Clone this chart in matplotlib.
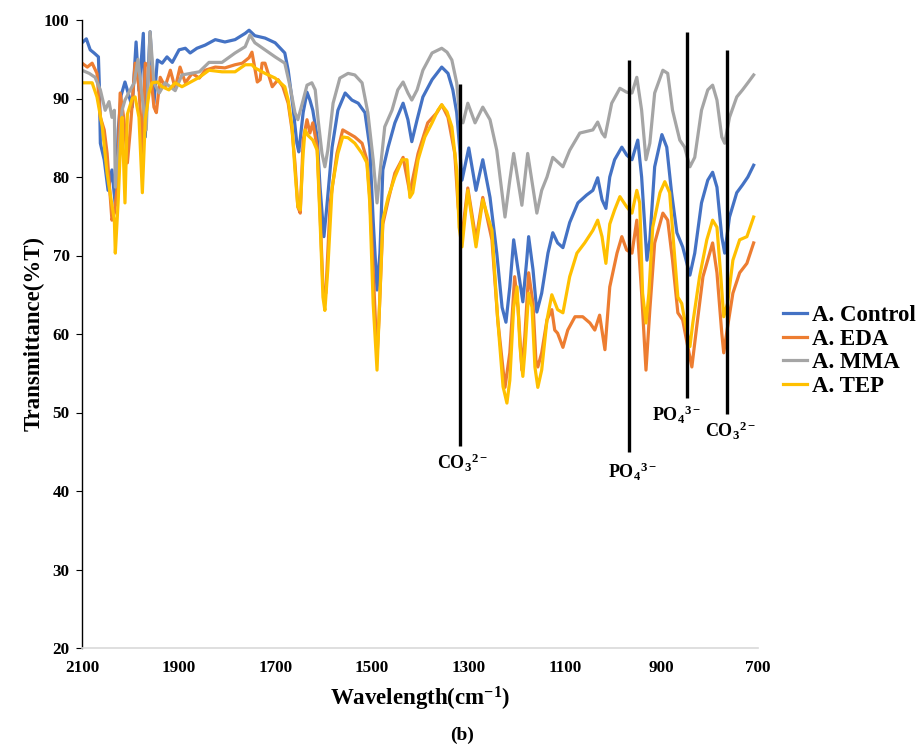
import matplotlib
matplotlib.use("Agg")
import matplotlib.pyplot as plt

# Fonts: Times-like bold text everywhere
plt.rcParams['font.family'] = ['Liberation Serif', 'DejaVu Serif']
plt.rcParams['font.weight'] = 'bold'
plt.rcParams['mathtext.fontset'] = 'custom'
plt.rcParams['mathtext.rm'] = 'Liberation Serif:bold'
plt.rcParams['mathtext.bf'] = 'Liberation Serif:bold'
plt.rcParams['mathtext.it'] = 'Liberation Serif:italic:bold'

# A. Control
control_wn = [2100, 2091, 2083, 2075, 2066, 2064, 2062, 2054, 2046, 2038, 2031, 2025, 2019, 2011,
              1996, 1988, 1982, 1973, 1969, 1959, 1951, 1944, 1934, 1924, 1913, 1899, 1886, 1876,
              1862, 1845, 1824, 1804, 1783, 1762, 1754, 1742, 1721, 1700, 1680, 1673, 1663, 1655,
              1651, 1642, 1634, 1628, 1622, 1613, 1607, 1599, 1593, 1582, 1570, 1555, 1541, 1528,
              1514, 1504, 1497, 1489, 1483, 1477, 1466, 1452, 1435, 1425, 1417, 1406, 1394, 1375,
              1355, 1342, 1332, 1324, 1317, 1313, 1299, 1284, 1270, 1255, 1241, 1230, 1222, 1214,
              1206, 1197, 1187, 1179, 1175, 1166, 1158, 1148, 1135, 1125, 1115, 1104, 1090, 1073,
              1055, 1042, 1032, 1023, 1015, 1007, 997, 982, 972, 961, 949, 941, 930, 924, 914, 899,
              889, 879, 868, 856, 841, 831, 817, 804, 794, 785, 775, 769, 759, 744, 732, 721, 709]
control_t = [97.1, 97.6, 96.2, 95.8, 95.3, 91.5, 84.3, 82.2, 78.3, 80.9, 76.4, 86.0, 90.4, 92.1,
             88.9, 97.2, 91.0, 98.3, 85.1, 98.5, 89.4, 94.9, 94.5, 95.3, 94.6, 96.2, 96.4, 95.8,
             96.4, 96.8, 97.5, 97.2, 97.5, 98.3, 98.7, 98.0, 97.7, 97.1, 95.8, 93.6, 88.9, 84.3,
             83.2, 88.2, 90.8, 89.8, 88.5, 85.1, 78.7, 72.4, 76.2, 83.8, 88.5, 90.7, 89.8, 89.4,
             88.2, 83.8, 74.5, 65.6, 70.3, 80.9, 83.8, 86.9, 89.4, 87.3, 84.5, 87.3, 90.2, 92.4,
             94.0, 93.2, 91.1, 88.2, 83.0, 79.6, 83.7, 78.3, 82.2, 77.4, 70.3, 63.4, 61.5, 66.0,
             72.0, 68.2, 64.1, 69.4, 72.4, 68.2, 62.8, 65.2, 70.3, 72.9, 71.6, 71.0, 74.2, 76.7,
             77.7, 78.3, 79.9, 77.1, 76.0, 80.0, 82.2, 83.8, 82.8, 82.2, 84.7, 80.0, 69.4, 72.0,
             81.3, 85.4, 83.8, 78.0, 72.9, 71.1, 67.5, 70.3, 76.7, 79.6, 80.6, 78.7, 72.4, 70.3,
             74.9, 78.0, 79.0, 80.0, 81.5]

# A. EDA
eda_wn = [2100, 2089, 2079, 2069, 2062, 2054, 2048, 2044, 2038, 2033, 2027, 2021, 2013, 2006,
          2000, 1990, 1982, 1975, 1969, 1959, 1951, 1946, 1938, 1928, 1917, 1907, 1897, 1886,
          1872, 1857, 1845, 1824, 1804, 1783, 1768, 1754, 1748, 1737, 1731, 1727, 1721, 1706,
          1694, 1684, 1673, 1665, 1659, 1653, 1648, 1642, 1634, 1628, 1622, 1613, 1607, 1601,
          1595, 1586, 1572, 1560, 1549, 1535, 1520, 1510, 1504, 1497, 1489, 1485, 1477, 1466,
          1452, 1435, 1421, 1404, 1384, 1365, 1355, 1342, 1328, 1321, 1313, 1301, 1284, 1270,
          1251, 1239, 1224, 1214, 1204, 1197, 1189, 1183, 1175, 1166, 1160, 1156, 1148, 1137,
          1127, 1121, 1115, 1104, 1094, 1079, 1063, 1048, 1038, 1028, 1017, 1007, 992, 982,
          972, 961, 951, 941, 932, 924, 914, 897, 887, 877, 866, 856, 848, 837, 827, 814, 800,
          794, 785, 775, 771, 763, 752, 738, 723, 709]
eda_t = [94.5, 94.0, 94.5, 93.2, 87.6, 86.0, 83.0, 79.6, 74.5, 75.4, 78.7, 90.7, 87.3, 81.8,
         86.0, 94.5, 91.5, 83.0, 94.5, 94.0, 88.9, 88.2, 92.7, 91.5, 93.6, 91.3, 94.0, 92.0,
         93.2, 92.6, 93.6, 94.0, 93.9, 94.3, 94.5, 95.2, 95.9, 92.1, 92.4, 94.5, 94.5, 91.5,
         92.4, 91.5, 89.4, 86.0, 81.8, 76.2, 75.4, 84.7, 87.3, 85.6, 86.9, 83.8, 75.4, 66.0,
         65.2, 76.7, 83.0, 86.0, 85.6, 85.1, 84.3, 82.2, 77.4, 68.2, 57.1, 61.8, 74.0, 77.0,
         80.5, 82.5, 78.0, 83.0, 86.9, 88.2, 89.2, 87.6, 83.0, 76.2, 72.5, 78.6, 72.0, 77.4,
         72.0, 61.8, 53.2, 57.6, 67.3, 63.4, 55.4, 59.6, 67.8, 63.9, 56.7, 55.8, 57.6, 61.8,
         63.1, 60.5, 60.1, 58.3, 60.5, 62.2, 62.2, 61.4, 60.5, 62.4, 58.0, 66.0, 70.3, 72.4,
         70.7, 70.3, 74.5, 65.2, 55.4, 63.1, 71.6, 75.4, 74.5, 69.4, 62.7, 61.8, 59.2, 55.8,
         60.9, 67.3, 70.3, 71.6, 67.8, 60.1, 57.6, 60.9, 65.2, 67.8, 69.0, 71.6]

# A. MMA
mma_wn = [2100, 2085, 2073, 2062, 2052, 2044, 2038, 2033, 2031, 2023, 2017, 2011, 2000, 1992,
          1984, 1975, 1967, 1959, 1951, 1940, 1928, 1907, 1893, 1857, 1837, 1810, 1783, 1762,
          1752, 1742, 1721, 1700, 1680, 1669, 1659, 1653, 1642, 1634, 1624, 1617, 1611, 1603,
          1597, 1591, 1580, 1566, 1549, 1535, 1520, 1508, 1497, 1489, 1483, 1473, 1458, 1446,
          1435, 1425, 1417, 1406, 1394, 1375, 1355, 1344, 1334, 1324, 1317, 1311, 1301, 1286,
          1270, 1255, 1241, 1224, 1214, 1206, 1189, 1177, 1158, 1148, 1137, 1125, 1104, 1090,
          1069, 1042, 1032, 1023, 1017, 1003, 986, 972, 961, 951, 941, 932, 924, 914, 897, 887,
          877, 862, 852, 841, 831, 817, 804, 794, 785, 775, 769, 759, 744, 732, 721, 709]
mma_t = [93.6, 93.2, 92.7, 91.1, 88.5, 89.6, 87.6, 88.5, 78.7, 83.8, 88.5, 89.8, 91.1, 92.0,
         95.0, 90.0, 86.0, 98.5, 92.0, 90.7, 92.0, 91.0, 93.0, 93.4, 94.6, 94.6, 95.8, 96.6,
         98.1, 97.1, 96.2, 95.3, 94.5, 91.5, 88.2, 87.3, 89.8, 91.7, 92.0, 91.1, 87.3, 83.0,
         81.3, 83.4, 89.4, 92.6, 93.2, 93.0, 92.0, 88.2, 82.2, 76.7, 80.5, 86.4, 88.5, 91.1,
         92.1, 90.7, 89.8, 91.1, 93.6, 95.8, 96.4, 95.9, 94.9, 92.0, 87.3, 86.9, 89.4, 86.9,
         88.9, 87.3, 83.4, 74.9, 79.6, 83.0, 76.4, 83.0, 75.4, 78.3, 80.0, 82.5, 81.3, 83.4,
         85.6, 86.0, 87.0, 85.6, 85.1, 89.4, 91.3, 90.8, 90.7, 92.7, 88.5, 82.2, 84.3, 90.7,
         93.6, 93.2, 88.5, 84.7, 83.8, 81.3, 82.5, 88.5, 91.1, 91.7, 89.8, 85.1, 84.3, 87.6,
         90.2, 91.1, 92.0, 93.0]

# A. TEP
tep_wn = [2100, 2079, 2069, 2058, 2048, 2042, 2033, 2031, 2025, 2021, 2017, 2011, 2006, 1996,
          1990, 1982, 1975, 1969, 1961, 1955, 1944, 1934, 1920, 1907, 1893, 1878, 1857, 1837,
          1810, 1783, 1762, 1748, 1742, 1721, 1700, 1680, 1673, 1665, 1659, 1653, 1648, 1642,
          1638, 1632, 1622, 1613, 1607, 1601, 1597, 1591, 1582, 1570, 1560, 1549, 1535, 1520,
          1510, 1504, 1497, 1489, 1485, 1477, 1466, 1452, 1437, 1427, 1421, 1415, 1404, 1390,
          1375, 1363, 1355, 1344, 1334, 1324, 1319, 1313, 1301, 1284, 1270, 1251, 1239, 1228,
          1220, 1214, 1206, 1199, 1193, 1187, 1183, 1175, 1168, 1162, 1156, 1148, 1137, 1127,
          1115, 1104, 1090, 1075, 1059, 1042, 1032, 1023, 1015, 1007, 997, 986, 972, 961, 951,
          945, 939, 932, 926, 918, 903, 893, 883, 872, 866, 858, 852, 841, 835, 821, 806, 794,
          785, 777, 771, 763, 752, 738, 723, 709]
tep_t = [92.0, 92.0, 90.2, 86.4, 80.5, 78.0, 74.5, 70.3, 77.0, 83.0, 87.6, 76.7, 88.0, 90.0,
         90.2, 87.6, 78.0, 87.3, 90.7, 92.0, 92.1, 91.5, 91.1, 92.0, 91.5, 92.0, 92.7, 93.6,
         93.4, 93.4, 94.3, 94.3, 93.9, 93.2, 92.6, 91.5, 89.8, 86.4, 80.9, 76.2, 75.8, 83.0,
         86.0, 85.3, 84.7, 83.4, 74.5, 64.7, 63.0, 68.2, 78.7, 83.0, 85.1, 85.0, 84.3, 83.0,
         81.8, 76.7, 63.9, 55.4, 61.8, 74.5, 77.4, 80.0, 82.2, 82.2, 77.4, 78.0, 82.2, 85.1,
         86.9, 88.5, 89.2, 88.3, 86.4, 80.9, 73.6, 71.1, 78.3, 71.1, 77.1, 73.2, 61.8, 53.3,
         51.2, 54.1, 63.4, 66.0, 58.4, 54.6, 57.6, 65.2, 63.4, 55.8, 53.2, 55.4, 61.8, 65.0,
         63.1, 62.7, 67.3, 70.3, 71.6, 73.2, 74.5, 72.4, 69.0, 74.0, 75.8, 77.5, 76.2, 75.4,
         78.3, 76.7, 65.2, 61.4, 65.2, 73.6, 78.0, 79.4, 78.0, 69.4, 64.7, 63.9, 61.8, 58.4,
         61.4, 67.3, 72.0, 74.5, 73.6, 67.3, 62.2, 63.9, 69.4, 72.0, 72.4, 74.9]

# Band markers (vertical black lines with ion labels)
band_wn = [1317, 968, 848, 764]
band_top = [91.8, 94.9, 98.5, 96.2]
band_bottom = [45.7, 45.0, 51.8, 49.8]
band_labels = ['CO$_3$$^{2-}$', 'PO$_4$$^{3-}$', 'PO$_4$$^{3-}$', 'CO$_3$$^{2-}$']
label_wn = [1313, 961, 868, 757]
label_t = [43.6, 42.4, 49.7, 47.6]

fig = plt.figure(figsize=(9.24, 7.56), dpi=100)
ax = fig.add_axes([82 / 924, 1 - 648 / 756, 676 / 924, 628 / 756])

lw = 2.3
ax.plot(control_wn, control_t, color='#4472C4', lw=lw, label='A. Control')
ax.plot(eda_wn, eda_t, color='#ED7D31', lw=lw, label='A. EDA')
ax.plot(mma_wn, mma_t, color='#A5A5A5', lw=lw, label='A. MMA')
ax.plot(tep_wn, tep_t, color='#FFC000', lw=lw, label='A. TEP')

for w, top, bot in zip(band_wn, band_top, band_bottom):
    ax.plot([w, w], [bot, top], color='black', lw=2.4, solid_capstyle='butt')
for w, t, s in zip(label_wn, label_t, band_labels):
    ax.text(w, t, s, ha='center', va='center', fontsize=13)

ax.set_xlim(2100, 700)
ax.set_ylim(20, 100)
ax.set_xticks(range(2100, 699, -200))
ax.set_yticks(range(20, 101, 10))

for side in ['top', 'right']:
    ax.spines[side].set_visible(False)
ax.spines['bottom'].set_color('#D9D9D9')
ax.spines['bottom'].set_linewidth(1.2)
ax.spines['left'].set_color('black')
ax.spines['left'].set_linewidth(1.0)

ax.tick_params(axis='x', length=0, labelsize=12.3, pad=9)
ax.tick_params(axis='y', direction='out', length=4, labelsize=12.3, pad=5)

ax.set_xlabel(r'Wavelength(cm$^{-1}$)', fontsize=16.5, fontweight='bold', labelpad=6)
ax.set_ylabel('Transmittance(%T)', fontsize=16.5, fontweight='bold', labelpad=-0.5)

ax.legend(loc='center left', bbox_to_anchor=(783 / 924, 1 - 351 / 756),
          bbox_transform=fig.transFigure, frameon=False, borderpad=0, borderaxespad=0,
          prop={'weight': 'bold', 'size': 16.5}, handlelength=1.05,
          handletextpad=0.2, labelspacing=0.12)

fig.text(0.5, 1 - 735 / 756, '(b)', ha='center', va='center', fontsize=14, fontweight='bold')

fig.savefig('out.png', dpi=100)
